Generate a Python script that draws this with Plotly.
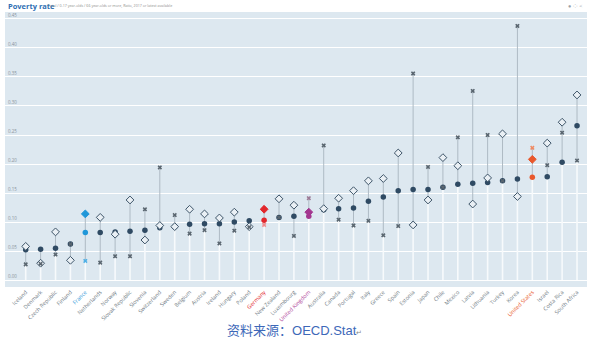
import plotly.graph_objects as go

countries = ["Iceland", "Denmark", "Czech Republic", "Finland", "France", "Netherlands", "Norway",
             "Slovak Republic", "Slovenia", "Switzerland", "Sweden", "Belgium", "Austria", "Ireland",
             "Hungary", "Poland", "Germany", "New Zealand", "Luxembourg", "United Kingdom", "Australia",
             "Canada", "Portugal", "Italy", "Greece", "Spain", "Estonia", "Japan", "Chile", "Mexico",
             "Latvia", "Lithuania", "Turkey", "Korea", "United States", "Israel", "Costa Rica", "South Africa"]

total = [0.052, 0.053, 0.055, 0.062, 0.082, 0.082, 0.083, 0.084, 0.086, 0.090, 0.092, 0.096, 0.097,
         0.097, 0.100, 0.102, 0.103, 0.108, 0.110, 0.110, 0.121, 0.123, 0.124, 0.136, 0.143, 0.154,
         0.156, 0.156, 0.160, 0.165, 0.167, 0.168, 0.171, 0.174, 0.177, 0.178, 0.203, 0.266]

children = [0.058, 0.029, 0.083, 0.034, 0.114, 0.108, 0.079, 0.138, 0.069, 0.094, 0.092, 0.122, 0.114,
            0.107, 0.117, 0.092, 0.122, 0.140, 0.129, 0.117, 0.123, 0.141, 0.154, 0.171, 0.175, 0.219,
            0.095, 0.138, 0.211, 0.197, 0.131, 0.176, 0.252, 0.144, 0.208, 0.236, 0.272, 0.319]

elderly = [0.027, 0.028, 0.044, 0.062, 0.033, 0.030, 0.041, 0.041, 0.122, 0.194, 0.112, 0.080, 0.086,
           0.063, 0.085, 0.091, 0.095, 0.108, 0.076, 0.141, 0.232, 0.104, 0.094, 0.102, 0.077, 0.093,
           0.356, 0.195, 0.160, 0.246, 0.326, 0.250, 0.171, 0.438, 0.228, 0.198, 0.254, 0.206]

y_ticks = [0.00, 0.05, 0.10, 0.15, 0.20, 0.25, 0.30, 0.35, 0.40, 0.45]

# styling
highlight = {"France": ("#1f97d9", "#4fb0e6"), "Germany": ("#e2272c", "#f08a8c"),
             "United Kingdom": ("#a3368f", "#9c7a96"), "United States": ("#e9572b", "#ef8a63")}
label_color = {"France": "#1f97d9", "Germany": "#e2272c", "United Kingdom": "#b0469a",
               "United States": "#e9572b"}
NAVY = "#2f4a63"
XCOL = "#5a6670"
BG = "#dde8f0"

fig = go.Figure()

# white stems from 0 to the lowest value, grey stems between min and max
wx, wy, gx, gy = [], [], [], []
for c, t, ch, el in zip(countries, total, children, elderly):
    lo, hi = min(t, ch, el), max(t, ch, el)
    wx += [c, c, None]; wy += [0, lo, None]
    gx += [c, c, None]; gy += [lo, hi, None]
fig.add_trace(go.Scatter(x=wx, y=wy, mode="lines", line=dict(color="#f7fafc", width=1.6),
                         hoverinfo="skip", showlegend=False))
fig.add_trace(go.Scatter(x=gx, y=gy, mode="lines", line=dict(color="#aebac4", width=1),
                         hoverinfo="skip", showlegend=False))

tot_col = [highlight[c][0] if c in highlight else NAVY for c in countries]
ch_fill = [highlight[c][0] if c in highlight else "#eaf0f5" for c in countries]
ch_line = [highlight[c][0] if c in highlight else "#3d5468" for c in countries]
el_col = [highlight[c][1] if c in highlight else XCOL for c in countries]

fig.add_trace(go.Scatter(x=countries, y=total, mode="markers", name="Total",
                         marker=dict(symbol="circle", size=5.5, color=tot_col, line=dict(width=0)),
                         showlegend=False))
fig.add_trace(go.Scatter(x=countries, y=children, mode="markers", name="0-17 year-olds",
                         marker=dict(symbol="diamond", size=6, color=ch_fill,
                                     line=dict(color=ch_line, width=1)),
                         showlegend=False))
fig.add_trace(go.Scatter(x=countries, y=elderly, mode="markers", name="66 year-olds or more",
                         marker=dict(symbol="x", size=4, color=el_col, line=dict(width=0)),
                         showlegend=False))

ticktext = [f"<span style='color:{label_color[c]}'>{c}</span>" if c in label_color else c
            for c in countries]

fig.update_layout(
    width=590, height=341,
    margin=dict(l=5, r=3, t=12, b=54),
    paper_bgcolor="white", plot_bgcolor=BG,
    font=dict(family="Open Sans", color="#7a858e"),
    xaxis=dict(type="category", categoryorder="array", categoryarray=countries,
               range=[-1.39, 37.67], tickmode="array", tickvals=countries, ticktext=ticktext,
               tickangle=-45, tickfont=dict(size=5.5, color="#707b84"), showgrid=False,
               zeroline=False, showline=False, ticks=""),
    yaxis=dict(range=[-0.012, 0.462], tickmode="array", tickvals=y_ticks,
               ticktext=[f"{v:.2f}" for v in y_ticks], ticklabelposition="inside top",
               tickfont=dict(size=4.5, color="#8a949c"), showgrid=True, gridcolor="white",
               gridwidth=1, zeroline=False, showline=False, ticks=""),
    annotations=[
        dict(text="<b>Poverty rate</b>", xref="paper", yref="paper", x=0.0017, y=1.022,
             xanchor="left", yanchor="middle", showarrow=False,
             font=dict(size=7.5, color="#2f6fb3", family="Open Sans")),
        dict(text="Total / 0-17 year-olds / 66 year-olds or more, Ratio, 2017 or latest available",
             xref="paper", yref="paper", x=0.071, y=1.022, xanchor="left", yanchor="middle",
             showarrow=False, font=dict(size=3.6, color="#8c8c8c", family="Open Sans")),
        dict(text="● ⁘ <", xref="paper", yref="paper", x=0.995, y=1.022, xanchor="right",
             yanchor="middle", showarrow=False, font=dict(size=5.5, color="#9aa0a5")),
        dict(text="<span style='font-family:Noto Sans CJK SC'>资料来源：</span>"
                  "<span style='font-family:Liberation Sans'>OECD.Stat</span>"
                  "<span style='font-size:7px;color:#888888'>↵</span>",
             xref="paper", yref="paper", x=0.497, y=-0.153, xanchor="center", yanchor="middle",
             showarrow=False, font=dict(size=13, color="#3d68b8")),
    ],
)

fig.write_html("out.html")
